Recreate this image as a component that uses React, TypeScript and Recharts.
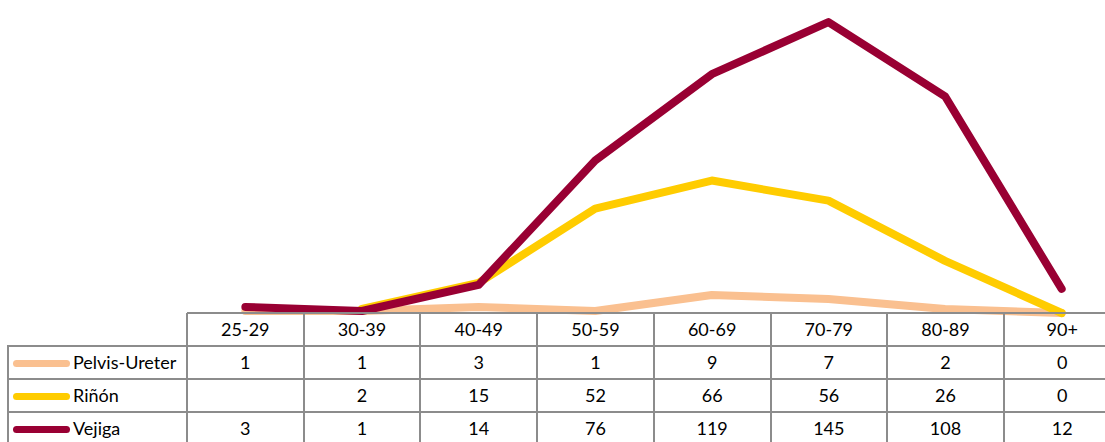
import React from "react";
import { LineChart, Line, XAxis, YAxis } from "recharts";

const ageGroups = ["25-29", "30-39", "40-49", "50-59", "60-69", "70-79", "80-89", "90+"];
const pelvisUreter = [1, 1, 3, 1, 9, 7, 2, 0];
const rinon: (number | null)[] = [null, 2, 15, 52, 66, 56, 26, 0];
const vejiga = [3, 1, 14, 76, 119, 145, 108, 12];

const seriesNames = ["Pelvis-Ureter", "Riñón", "Vejiga"];
const seriesColors = ["#FAC090", "#FFCC00", "#990033"];
const seriesValues = [pelvisUreter, rinon, vejiga];

const data = ageGroups.map((g, i) => ({
  group: g,
  pelvis: pelvisUreter[i],
  rinon: rinon[i],
  vejiga: vejiga[i],
}));

const PLOT_LEFT = 187;
const COL_W = 116.7;
const TOP = 313;
const ROW_H = 33;
const GRID = "#8c8c8c";
const FONT = "Lato, 'Open Sans', sans-serif";

function Table() {
  const cells: React.ReactNode[] = [];
  const right = PLOT_LEFT + COL_W * ageGroups.length;
  // horizontal lines
  cells.push(<div key="h0" style={{ position: "absolute", left: PLOT_LEFT, top: TOP - 1, width: right - PLOT_LEFT, height: 2, background: GRID }} />);
  for (let r = 1; r <= 4; r++) {
    cells.push(
      <div key={"h" + r} style={{ position: "absolute", left: 7, top: TOP + r * ROW_H - 1, width: right - 7, height: 2, background: GRID }} />
    );
  }
  // vertical lines
  cells.push(<div key="v0" style={{ position: "absolute", left: 7, top: TOP + ROW_H, width: 2, height: ROW_H * 3, background: GRID }} />);
  for (let c = 0; c <= ageGroups.length; c++) {
    cells.push(
      <div key={"v" + (c + 1)} style={{ position: "absolute", left: PLOT_LEFT + c * COL_W - 1, top: TOP, width: 2, height: ROW_H * 4, background: GRID }} />
    );
  }
  // header
  ageGroups.forEach((g, c) => {
    cells.push(
      <div key={"g" + c} style={{ position: "absolute", left: PLOT_LEFT + c * COL_W, top: TOP, width: COL_W, height: ROW_H, lineHeight: ROW_H + "px", textAlign: "center" }}>{g}</div>
    );
  });
  seriesNames.forEach((name, r) => {
    const y = TOP + (r + 1) * ROW_H;
    cells.push(
      <div key={"m" + r} style={{ position: "absolute", left: 13, top: y + ROW_H / 2 - 3, width: 57, height: 7, borderRadius: 3.5, background: seriesColors[r] }} />
    );
    cells.push(
      <div key={"n" + r} style={{ position: "absolute", left: 73, top: y, height: ROW_H, lineHeight: ROW_H + "px", whiteSpace: "nowrap" }}>{name}</div>
    );
    seriesValues[r].forEach((v, c) => {
      cells.push(
        <div key={"c" + r + "-" + c} style={{ position: "absolute", left: PLOT_LEFT + c * COL_W, top: y, width: COL_W, height: ROW_H, lineHeight: ROW_H + "px", textAlign: "center" }}>
          {v === null ? "" : v}
        </div>
      );
    });
  });
  return <>{cells}</>;
}

export default function App() {
  return (
    <div style={{ position: "absolute", left: 0, top: 0, width: 1105, height: 442, overflow: "hidden", background: "#fff", fontFamily: FONT, fontSize: 18, color: "#000" }}>
      <div style={{ position: "absolute", left: 0, top: 0 }}>
        <LineChart width={1125} height={320} data={data} margin={{ top: 12, right: 5, left: PLOT_LEFT, bottom: 7 }}>
          <XAxis dataKey="group" hide padding={{ left: COL_W / 2, right: COL_W / 2 }} />
          <YAxis hide domain={[0, 150]} />
          <Line dataKey="pelvis" stroke={seriesColors[0]} strokeWidth={8} dot={false} strokeLinecap="round" strokeLinejoin="round" isAnimationActive={false} />
          <Line dataKey="rinon" stroke={seriesColors[1]} strokeWidth={8} dot={false} strokeLinecap="round" strokeLinejoin="round" isAnimationActive={false} />
          <Line dataKey="vejiga" stroke={seriesColors[2]} strokeWidth={8} dot={false} strokeLinecap="round" strokeLinejoin="round" isAnimationActive={false} />
        </LineChart>
      </div>
      <Table />
    </div>
  );
}
